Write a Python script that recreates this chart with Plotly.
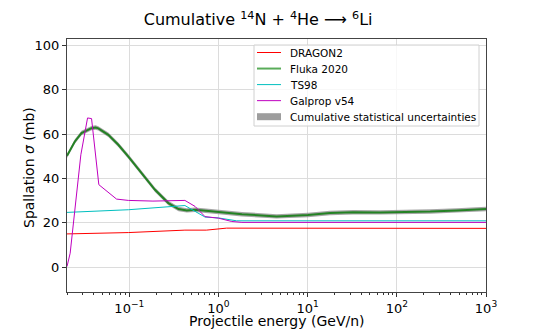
import numpy as np
import plotly.graph_objects as go

# ---- data (energy in GeV/n, cross section in mb) ----
fluka_E = [0.02, 0.0245, 0.0291, 0.0377, 0.0418, 0.0449, 0.0581, 0.0752, 0.0975,
           0.137, 0.194, 0.274, 0.356, 0.441, 0.546, 0.773, 1.09, 1.83, 4.49,
           10.1, 17.8, 32.3, 64.9, 100, 237, 472, 1000]
fluka_sig = [50.2, 56.7, 60.5, 62.7, 63.0, 62.6, 59.7, 55.2, 49.9,
             42.4, 34.9, 28.9, 26.2, 25.6, 25.9, 25.3, 24.7, 23.9, 22.9,
             23.5, 24.4, 24.8, 24.7, 24.8, 25.1, 25.6, 26.2]
fluka_err = [1.0] * len(fluka_E)

dragon_E = [0.02, 0.0975, 0.42, 0.73, 1.23, 1000]
dragon_sig = [15.0, 15.6, 16.7, 16.7, 17.6, 17.5]

ts98_E = [0.02, 0.0975, 0.42, 0.56, 0.706, 1.0, 1.29, 1.6, 1000]
ts98_sig = [24.7, 25.9, 27.8, 25.0, 22.6, 22.2, 21.4, 20.9, 20.9]

galprop_E = [0.02, 0.0217, 0.0286, 0.034, 0.0377, 0.0455, 0.0719, 0.0975, 0.184,
             0.42, 0.546, 0.706, 1.0, 1.41, 1.83, 1000]
galprop_sig = [0.3, 6.3, 50.7, 67.3, 67.0, 37.2, 30.7, 30.1, 29.8,
               30.1, 27.4, 22.8, 22.1, 20.6, 20.2, 20.2]

x_tick_vals = [0.1, 1, 10, 100, 1000]
x_tick_text = ["10<sup>−1</sup>", "10<sup>0</sup>", "10<sup>1</sup>", "10<sup>2</sup>", "10<sup>3</sup>"]
y_tick_vals = [0, 20, 40, 60, 80, 100]

legend_labels = ["DRAGON2", "Fluka 2020", "TS98", "Galprop v54",
                 "Cumulative statistical uncertainties"]

# ---- styles ----
C_RED = "#ff0000"
C_GREEN = "rgba(0,120,0,0.78)"
C_CYAN = "#00bfbf"
C_MAG = "#bf00bf"
C_BAND = "rgba(128,128,128,0.7)"
FONT = "DejaVu Sans"

W, H = 540, 329
ML, MR, MT, MB = 67, 54, 39, 37
PW, PH = W - ML - MR, H - MT - MB


def px(xp):
    return (xp - ML) / PW


def py(yp):
    return (H - MB - yp) / PH


minor_vals = [k * 10.0 ** n for n in range(-2, 3) for k in range(2, 10)]
upper = [s + e for s, e in zip(fluka_sig, fluka_err)]
lower = [s - e for s, e in zip(fluka_sig, fluka_err)]

fig = go.Figure()
fig.add_trace(go.Scatter(x=fluka_E, y=lower, mode="lines", line=dict(width=0, color="grey"),
                         showlegend=False, hoverinfo="skip"))
fig.add_trace(go.Scatter(x=fluka_E, y=upper, mode="lines", line=dict(width=0, color="grey"),
                         fill="tonexty", fillcolor=C_BAND, showlegend=False,
                         name=legend_labels[4]))
fig.add_trace(go.Scatter(x=dragon_E, y=dragon_sig, mode="lines", name=legend_labels[0],
                         line=dict(color=C_RED, width=1), showlegend=False))
fig.add_trace(go.Scatter(x=fluka_E, y=fluka_sig, mode="lines", name=legend_labels[1],
                         line=dict(color=C_GREEN, width=2), showlegend=False))
fig.add_trace(go.Scatter(x=ts98_E, y=ts98_sig, mode="lines", name=legend_labels[2],
                         line=dict(color=C_CYAN, width=1), showlegend=False))
fig.add_trace(go.Scatter(x=galprop_E, y=galprop_sig, mode="lines", name=legend_labels[3],
                         line=dict(color=C_MAG, width=1), showlegend=False))

# ---- matplotlib-like legend box ----
shapes = []
annotations = []
box_l, box_t, box_r, box_b = 254, 45, 479, 126
shapes.append(dict(type="rect", xref="paper", yref="paper",
                   x0=px(box_l), x1=px(box_r), y0=py(box_b), y1=py(box_t),
                   fillcolor="rgba(255,255,255,0.8)", line=dict(color="#d0d0d0", width=1),
                   layer="above"))
row0, row_gap = 52.5, 16.05
sym_l, sym_r, txt_x = 257, 281, 288
line_styles = [(C_RED, 1), ("rgba(0,128,0,0.65)", 2), (C_CYAN, 1), (C_MAG, 1)]
for i, lab in enumerate(legend_labels):
    yc = row0 + i * row_gap
    if i < 4:
        col, wid = line_styles[i]
        shapes.append(dict(type="line", xref="paper", yref="paper",
                           x0=px(sym_l), x1=px(sym_r), y0=py(yc), y1=py(yc),
                           line=dict(color=col, width=wid), layer="above"))
    else:
        shapes.append(dict(type="rect", xref="paper", yref="paper",
                           x0=px(sym_l), x1=px(sym_r), y0=py(yc + 3.5), y1=py(yc - 3.5),
                           fillcolor="rgba(140,140,140,0.85)", line=dict(width=0),
                           layer="above"))
    annotations.append(dict(text=lab, xref="paper", yref="paper",
                            x=px(txt_x), y=py(yc), xanchor="left", yanchor="middle",
                            showarrow=False, font=dict(family=FONT, size=10.5, color="black")))

# axis titles as annotations
annotations.append(dict(text="Projectile energy (GeV/n)", xref="paper", yref="paper",
                        x=0.5, y=py(321), xanchor="center", yanchor="middle",
                        showarrow=False, font=dict(family=FONT, size=14, color="black")))
annotations.append(dict(text="Spallation <i>σ</i> (mb)", xref="paper", yref="paper",
                        x=px(29), y=py(168), xanchor="center", yanchor="middle",
                        textangle=-90, showarrow=False,
                        font=dict(family=FONT, size=14, color="black")))

fig.update_layout(
    width=W, height=H,
    margin=dict(l=ML, r=MR, t=MT, b=MB),
    paper_bgcolor="white", plot_bgcolor="white",
    font=dict(family=FONT, size=13, color="black"),
    title=dict(text="Cumulative <sup>14</sup>N + <sup>4</sup>He ⟶ <sup>6</sup>Li",
               x=0.478, xref="container", xanchor="center",
               y=0.94, yref="container", yanchor="middle",
               font=dict(family=FONT, size=16, color="black")),
    showlegend=False,
    shapes=shapes,
    annotations=annotations,
)
fig.update_xaxes(
    type="log", range=[np.log10(0.02), 3],
    tickvals=x_tick_vals, ticktext=x_tick_text,
    ticks="outside", ticklen=4, tickcolor="#333", tickfont=dict(size=13),
    showgrid=True, gridcolor="#dcdcdc", gridwidth=1,
    showline=True, linecolor="#444", linewidth=1, mirror=True,
    zeroline=False, automargin=False,
    minor=dict(tickvals=minor_vals, ticks="outside", ticklen=2, tickcolor="#333", showgrid=False),
)
fig.update_yaxes(
    range=[-11.2, 102.9],
    tickvals=y_tick_vals,
    ticks="outside", ticklen=4, tickcolor="#333", tickfont=dict(size=13),
    showgrid=True, gridcolor="#dcdcdc", gridwidth=1,
    showline=True, linecolor="#444", linewidth=1, mirror=True,
    zeroline=False, automargin=False,
)

fig.write_html("out.html", config={"displayModeBar": False},
               post_script="document.body.style.margin='0';document.body.style.overflow='hidden';")
